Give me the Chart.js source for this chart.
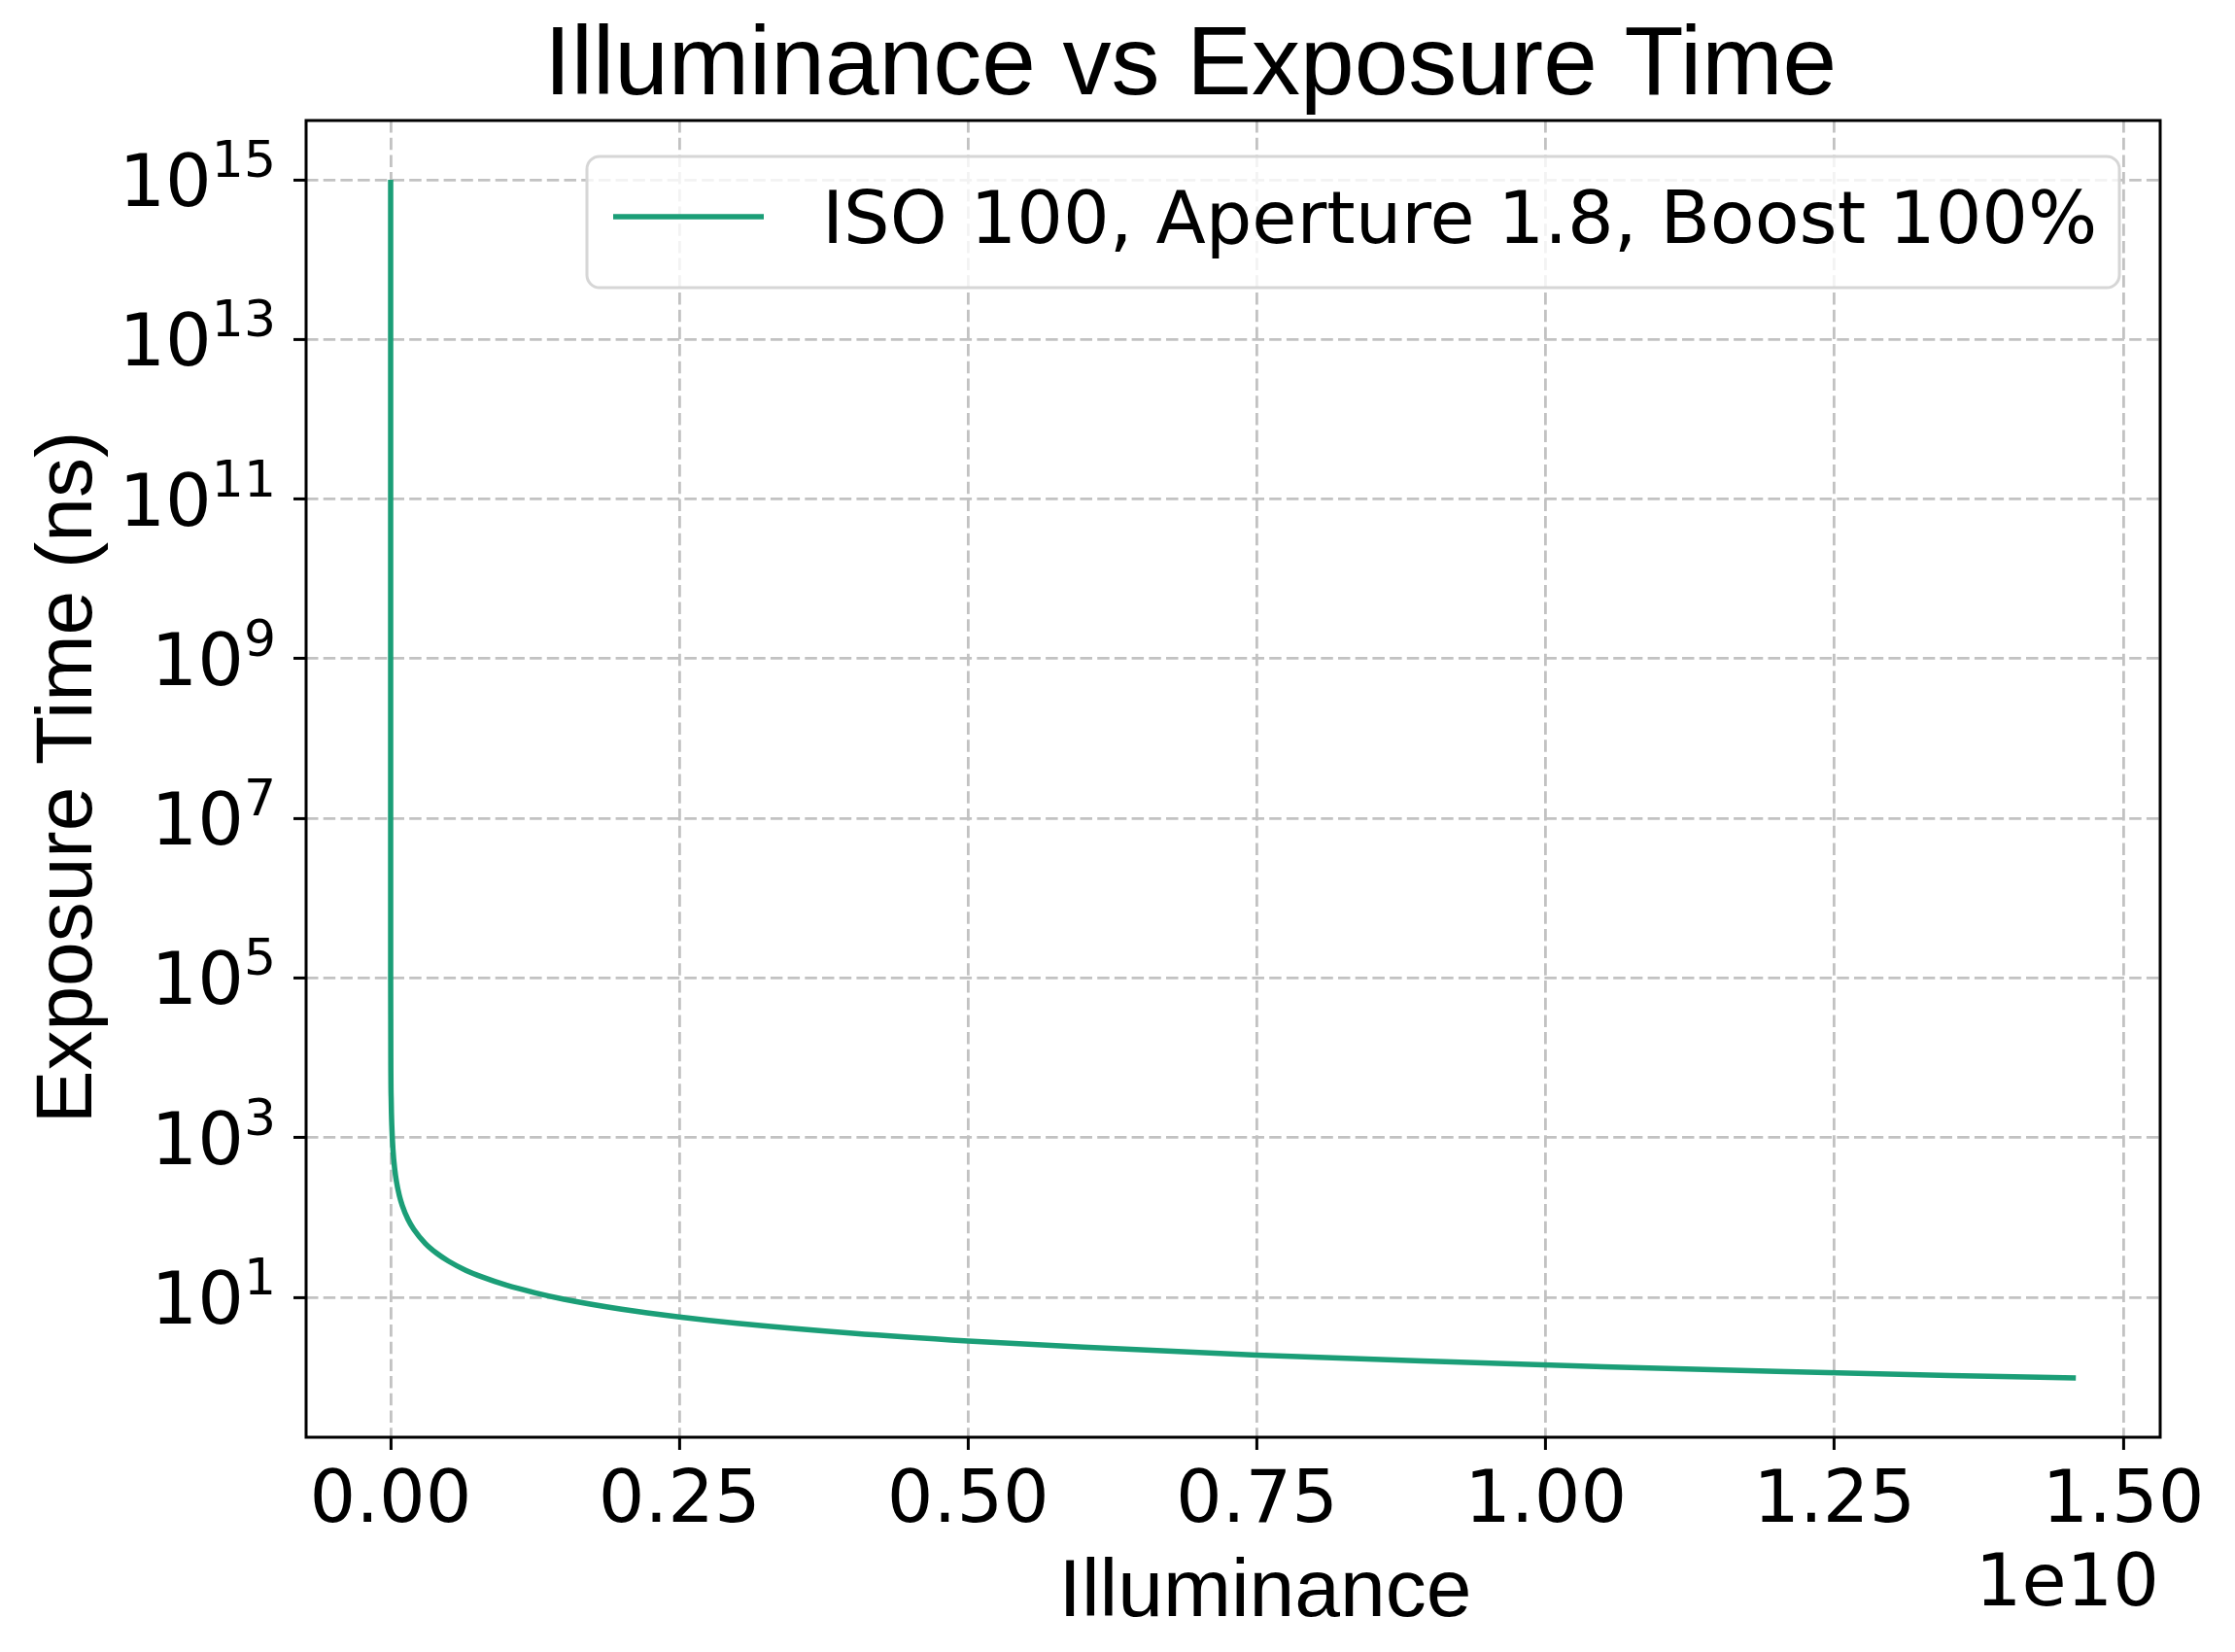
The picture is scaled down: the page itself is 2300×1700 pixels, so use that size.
<!DOCTYPE html>
<html>
<head>
<meta charset="utf-8">
<title>Illuminance vs Exposure Time</title>
<script src="https://cdn.jsdelivr.net/npm/chart.js@4"></script>
<style>
  body { margin: 0; background: #fff; }
  #wrap { width: 2300px; height: 1700px; }
</style>
</head>
<body>
<div id="wrap"><canvas id="exposureChart" width="2300" height="1700"></canvas></div>
<script>
//====================================
// DATOS
//====================================
const illuminance = [
  1.42e-5, 1.42e3, 1.42e5, 1.42e6, 5e6, 1e7, 2e7, 3.5e7, 5e7, 7.5e7,
  1e8, 1.5e8, 2e8, 3e8, 4e8, 5e8, 6.5e8, 8e8, 1e9, 1.25e9,
  1.5e9, 2e9, 2.5e9, 3e9, 4e9, 5e9, 6e9, 7.5e9, 9e9, 1.05e10,
  1.2e10, 1.35e10, 1.459e10
];
const exposureNs = [
  1e15, 1e7, 1e5, 1e4, 2840, 1420, 710, 406, 284, 189,
  142, 94.7, 71, 47.3, 35.5, 28.4, 21.8, 17.8, 14.2, 11.4,
  9.47, 7.1, 5.68, 4.73, 3.55, 2.84, 2.37, 1.89, 1.58, 1.35,
  1.18, 1.05, 0.973
];
const seriesLabel = "ISO 100, Aperture 1.8, Boost 100%";
const xTicks = [0, 0.25e10, 0.5e10, 0.75e10, 1.0e10, 1.25e10, 1.5e10];
const yTicks = [1e1, 1e3, 1e5, 1e7, 1e9, 1e11, 1e13, 1e15];

const lineColor = "#1b9e77";
const tickFont = "75px 'DejaVu Sans'";
const supFont = "52px 'DejaVu Sans'";
const labelFontFamily = "'Liberation Sans', Arial, sans-serif";

//====================================
// TEXTOS, MARCO Y LEYENDA (estilo matplotlib)
//====================================
const decorPlugin = {
  id: "decor",
  afterDraw(chart) {
    const ctx = chart.ctx;
    const area = chart.chartArea;
    const xScale = chart.scales.x;
    const yScale = chart.scales.y;

    ctx.save();

    // Marco completo
    ctx.strokeStyle = "#000";
    ctx.lineWidth = 3;
    ctx.strokeRect(area.left, area.top, area.right - area.left, area.bottom - area.top);

    ctx.fillStyle = "#000";

    // Etiquetas del eje Y (10 con exponente)
    yScale.ticks.forEach((t) => {
      const py = yScale.getPixelForValue(t.value);
      const exp = String(Math.round(Math.log10(t.value)));
      ctx.font = supFont;
      const expW = ctx.measureText(exp).width;
      const right = 284;
      ctx.textAlign = "left";
      ctx.textBaseline = "alphabetic";
      ctx.fillText(exp, right - expW, py - 3);
      ctx.font = tickFont;
      ctx.textAlign = "right";
      ctx.fillText("10", right - expW, py + 27);
    });

    // Etiquetas del eje X
    ctx.font = tickFont;
    ctx.textAlign = "center";
    ctx.textBaseline = "alphabetic";
    xScale.ticks.forEach((t) => {
      const px = xScale.getPixelForValue(t.value);
      ctx.fillText((t.value / 1e10).toFixed(2), px, 1566);
    });

    // Factor de escala
    ctx.textAlign = "right";
    ctx.fillText("1e10", 2222, 1652);

    // Titulo y nombres de ejes
    ctx.textAlign = "center";
    ctx.font = "100px " + labelFontFamily;
    ctx.fillText("Illuminance vs Exposure Time", 1225, 97);

    ctx.font = "84px " + labelFontFamily;
    ctx.fillText("Illuminance", 1302, 1663);

    ctx.save();
    ctx.translate(94, 800);
    ctx.rotate(-Math.PI / 2);
    ctx.font = "82px " + labelFontFamily;
    ctx.fillText("Exposure Time (ns)", 0, 0);
    ctx.restore();

    // Leyenda
    const bx = 604, by = 161, bw = 2181 - 604, bh = 296 - 161;
    ctx.beginPath();
    ctx.roundRect(bx, by, bw, bh, 13);
    ctx.fillStyle = "rgba(255,255,255,0.8)";
    ctx.fill();
    ctx.strokeStyle = "#d6d6d6";
    ctx.lineWidth = 3;
    ctx.stroke();

    ctx.beginPath();
    ctx.moveTo(631, 223);
    ctx.lineTo(786, 223);
    ctx.strokeStyle = lineColor;
    ctx.lineWidth = 5.5;
    ctx.stroke();

    ctx.fillStyle = "#000";
    ctx.font = tickFont;
    ctx.textAlign = "left";
    ctx.fillText(seriesLabel, 846, 250);

    ctx.restore();
  },
};

//====================================
// GRAFICO
//====================================
const points = illuminance.map((x, i) => ({ x: x, y: exposureNs[i] }));

const gridStyle = {
  color: "#c2c2c2",
  lineWidth: 2.8,
  drawTicks: true,
  tickLength: 13,
  tickColor: "#000",
  tickWidth: 3,
};

const ctx = document.getElementById("exposureChart").getContext("2d");

new Chart(ctx, {
  type: "line",
  data: {
    datasets: [
      {
        label: seriesLabel,
        data: points,
        borderColor: lineColor,
        borderWidth: 5.5,
        pointRadius: 0,
        fill: false,
        cubicInterpolationMode: "monotone",
      },
    ],
  },
  options: {
    responsive: false,
    animation: false,
    devicePixelRatio: 1,
    layout: { padding: { top: 124, right: 77, left: 0, bottom: 0 } },
    plugins: {
      legend: { display: false },
      title: { display: false },
      tooltip: { enabled: false },
    },
    scales: {
      x: {
        type: "linear",
        min: -0.0732e10,
        max: 1.532e10,
        grid: gridStyle,
        border: { display: false, dash: [12.5, 5.2] },
        ticks: { display: false },
        afterBuildTicks: (scale) => {
          scale.ticks = xTicks.map((v) => ({ value: v }));
        },
        afterFit: (scale) => {
          scale.height = 1700 - 1479;
        },
      },
      y: {
        type: "logarithmic",
        min: 0.1766,
        max: 5.52e15,
        grid: gridStyle,
        border: { display: false, dash: [12.5, 5.2] },
        ticks: { display: false },
        afterBuildTicks: (scale) => {
          scale.ticks = yTicks.map((v) => ({ value: v }));
        },
        afterFit: (scale) => {
          scale.width = 315;
        },
      },
    },
  },
  plugins: [decorPlugin],
});
</script>
</body>
</html>
